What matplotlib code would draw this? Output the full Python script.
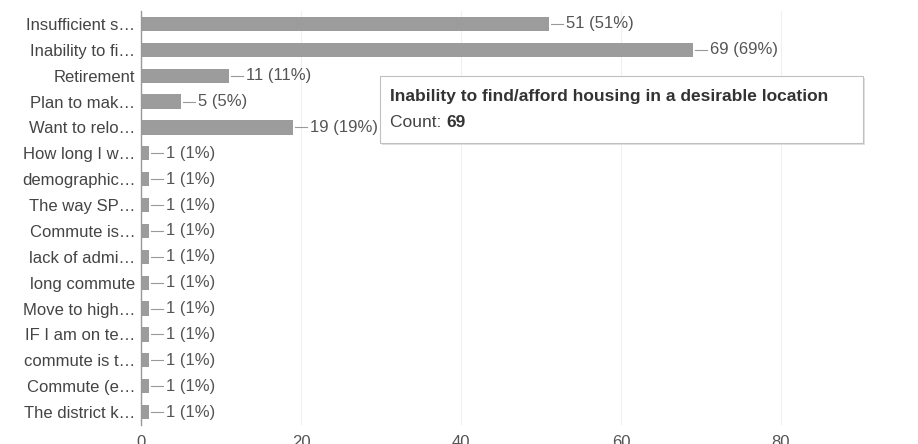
import matplotlib
matplotlib.use("Agg")
import matplotlib.pyplot as plt
from matplotlib.patches import Rectangle

plt.rcParams["font.family"] = ["Liberation Sans", "DejaVu Sans"]

# ── data ──────────────────────────────────────────────────
labels = ["Insufficient s\u2026", "Inability to fi\u2026", "Retirement",
          "Plan to mak\u2026", "Want to relo\u2026", "How long I w\u2026",
          "demographic\u2026", "The way SP\u2026", "Commute is\u2026",
          "lack of admi\u2026", "long commute", "Move to high\u2026",
          "IF I am on te\u2026", "commute is t\u2026", "Commute (e\u2026",
          "The district k\u2026"]
counts = [51, 69, 11, 5, 19, 1, 1, 1, 1, 1, 1, 1, 1, 1, 1, 1]
total = 100
x_ticks = [0, 20, 40, 60, 80]

tip_title = "Inability to find/afford housing in a desirable location"
tip_count = 69

W, H = 918, 444
fig = plt.figure(figsize=(W / 100, H / 100), dpi=100)
ax = fig.add_axes([141 / W, 1 - 425 / H, (W - 141) / W, (425 - 11) / H])

ypos = list(range(len(labels)))
ax.barh(ypos, counts, height=0.55, color="#9c9c9c", zorder=2)

# value labels with the little leader line
for y, c in zip(ypos, counts):
    ax.plot([c + 0.3, c + 1.8], [y, y], color="#999999", lw=0.8, zorder=2)
    ax.text(c + 2.1, y, f"{c} ({c * 100 // total}%)", va="center",
            ha="left", fontsize=12, color="#555555", zorder=3)

ax.set_xlim(0, (W - 141) / 8)
ax.set_ylim(len(labels) - 0.5, -0.5)
ax.set_yticks(ypos)
ax.set_yticklabels(labels, fontsize=12, color="#444444")
ax.set_xticks(x_ticks)
ax.set_xticklabels([str(t) for t in x_ticks], fontsize=12, color="#555555")
ax.tick_params(axis="both", length=0)
ax.tick_params(axis="x", pad=7)
ax.tick_params(axis="y", pad=4)
ax.grid(axis="x", color="#f0f0f0", lw=0.8, zorder=0)
for s in ["top", "right", "bottom"]:
    ax.spines[s].set_visible(False)
ax.spines["left"].set_color("#999999")
ax.spines["left"].set_linewidth(1.0)
ax.spines["left"].set_zorder(4)

# tooltip box
bx0, by0, bx1, by1 = 380, 76, 863, 143
fig.patches.append(Rectangle(((bx0 + 2) / W, 1 - (by1 + 2) / H),
                             (bx1 - bx0) / W, (by1 - by0) / H,
                             transform=fig.transFigure, facecolor="#e0e0e0",
                             edgecolor="none", zorder=5))
fig.patches.append(Rectangle((bx0 / W, 1 - by1 / H),
                             (bx1 - bx0) / W, (by1 - by0) / H,
                             transform=fig.transFigure, facecolor="white",
                             edgecolor="#c0c0c0", lw=0.8, zorder=6))
fig.text(390 / W, 1 - 96 / H, tip_title, fontsize=12.5, fontweight="bold",
         color="#333333", va="center", ha="left", zorder=7)
t = fig.text(390 / W, 1 - 122 / H, "Count: ", fontsize=12.5, color="#444444",
             va="center", ha="left", zorder=7)
fig.canvas.draw()
bb = t.get_window_extent()
fig.text(bb.x1 / W, 1 - 122 / H, str(tip_count), fontsize=12.5,
         fontweight="bold", color="#333333", va="center", ha="left", zorder=7)

fig.savefig("out.png", dpi=100)
